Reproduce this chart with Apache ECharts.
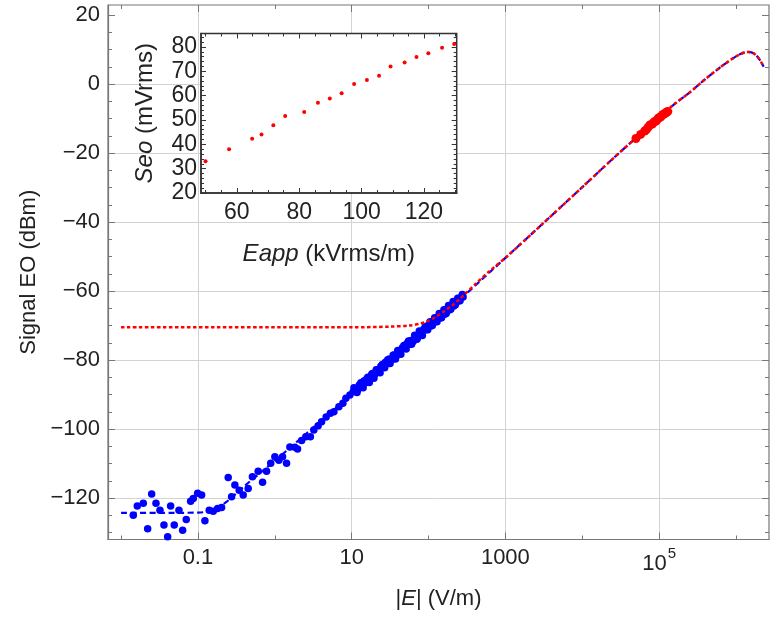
<!DOCTYPE html>
<html><head><meta charset="utf-8">
<script src="https://cdn.jsdelivr.net/npm/echarts@6/dist/echarts.min.js"></script>
<style>html,body{margin:0;padding:0;background:#fff}#c{width:771px;height:619px}</style>
</head><body><div id="c"></div>
<script>
// measured points (x stored as log10 of |E| in V/m, y in dBm)
const measLog10E = [-1.841,-1.789,-1.711,-1.602,-1.654,-1.546,-1.494,-1.442,-1.394,-1.355,-1.308,-1.247,-1.199,-1.152,-1.095,-1.061,-1.004,-0.952,-0.909,-0.853,-0.801,-0.744,-0.692,-0.606,-0.562,-0.519,-0.463,-0.411,-0.346,-0.291,-0.216,-0.159,-0.107,-0.053,0.001,0.053,0.101,0.153,0.196,0.261,0.296,0.349,0.404,0.463,0.508,0.564,0.609,0.668,0.723,0.769,0.834,0.886,0.925,0.977,1.020,
1.05,1.08,1.10,1.13,1.16,1.18,1.21,1.24,1.27,1.30,1.32,1.35,1.38,1.41,1.44,1.46,1.49,1.52,1.55,1.58,1.61,1.63,1.66,1.69,1.72,1.75,1.77,1.80,1.83,1.86,1.89,1.91,1.94,1.97,2.00,2.03,2.06,2.09,2.12,2.15,2.18,2.21,2.24,2.27,2.30,2.33,2.36,2.39,2.42,2.45,
1.03,1.07,1.12,1.15,1.19,1.23,1.26,1.29,1.33,1.37,1.40,1.43,1.47,1.50,1.54,1.57,1.60,1.64,1.68,1.71,1.74,1.78,1.82,1.85,1.88,1.92,1.96,1.99,2.02,2.05,2.08,2.11,2.14,2.17,2.20,2.23,2.26,2.29,2.32,2.35,2.38,2.41,2.44];
const measDbm = [-125.0,-122.3,-121.5,-118.8,-128.9,-121.5,-123.5,-127.8,-131.2,-122.3,-127.8,-123.5,-129.3,-126.2,-120.9,-120.1,-118.6,-119.1,-126.6,-123.5,-123.8,-123.0,-122.7,-114.0,-119.6,-116.2,-117.7,-119.1,-117.2,-113.8,-112.2,-115.4,-112.2,-109.9,-108.0,-109.0,-108.0,-109.9,-105.2,-105.3,-105.8,-103.3,-102.2,-102.2,-100.3,-99.0,-97.9,-96.5,-95.4,-95.0,-93.5,-92.5,-91.1,-90.1,-89.2,
-88.3,-88.6,-87.2,-87.5,-86.1,-86.6,-85.0,-85.3,-83.9,-84.2,-82.8,-83.1,-81.8,-82.0,-80.6,-81.1,-79.7,-79.9,-78.5,-78.9,-77.4,-77.7,-76.4,-76.6,-75.2,-75.5,-74.3,-74.6,-73.2,-73.4,-72.0,-72.4,-71.0,-71.2,-69.9,-70.1,-68.8,-68.9,-67.6,-67.8,-66.5,-66.7,-65.3,-65.5,-64.2,-64.3,-63.1,-62.9,-61.9,-61.7,
-88.0,-89.4,-86.6,-88.0,-85.6,-86.5,-84.2,-85.3,-82.9,-83.7,-81.3,-82.2,-79.9,-81.0,-78.6,-79.7,-77.2,-78.3,-75.8,-76.8,-74.5,-75.4,-72.8,-74.0,-71.6,-72.9,-70.3,-71.2,-68.9,-70.0,-67.7,-68.9,-66.5,-67.7,-65.4,-66.5,-64.2,-65.3,-63.0,-64.0,-62.1,-62.8,-61.0];
// blue dashed fit curve
const fitLog10E = [-2.0,-1.5,-1.0,-0.9,-0.8,-0.7,-0.6,-0.5,-0.4,-0.2,0.0,0.5,1.0,1.5,2.0,2.45,3.0,3.5,4.0,4.4,4.7,5.0,5.2,5.4,5.6,5.8,5.95,6.05,6.15,6.22,6.28,6.33,6.36];
const fitDbm = [-124.3,-124.3,-124.2,-124.0,-123.3,-122.2,-120.6,-118.6,-116.6,-112.9,-109.2,-99.6,-89.9,-80.2,-70.5,-61.6,-50.4,-40.2,-29.9,-21.6,-15.6,-9.6,-5.8,-2.4,1.4,4.9,7.3,8.6,9.3,9.0,7.9,6.3,5.0];
// red dotted model curve
const modelLog10E = [-2.0,1.0,1.5,1.75,1.9,2.0,2.1,2.2,2.3,2.4,2.5,2.6,2.8,3.0,3.5,4.0,4.4,4.7,5.0,5.2,5.4,5.6,5.8,5.95,6.05,6.15,6.22,6.28,6.33,6.36];
const modelDbm = [-70.5,-70.5,-70.3,-70.0,-69.4,-68.6,-67.4,-65.9,-64.3,-62.4,-60.3,-58.2,-54.1,-50.4,-40.2,-29.9,-21.6,-15.6,-9.6,-5.8,-2.4,1.4,4.9,7.3,8.6,9.3,9.0,7.9,6.3,5.0];
// red high-field points in main plot
const redLog10E = [4.699,4.760,4.812,4.832,4.856,4.878,4.912,4.934,4.953,4.971,4.989,5.007,5.024,5.039,5.056,5.070,5.084,5.100,5.113];
const redDbm = [-15.8,-14.6,-13.6,-13.3,-12.6,-11.9,-11.6,-11.0,-10.8,-10.5,-9.9,-9.7,-9.5,-9.0,-8.8,-8.6,-8.4,-8.1,-8.0];
// inset
const insetEapp = [49.95,57.5,64.9,67.9,71.7,75.5,81.6,86.0,89.8,93.6,97.6,101.7,105.6,109.3,113.8,117.6,121.4,125.8,129.7];
const insetSeo = [33.0,38.0,42.3,44.0,47.8,51.6,53.3,57.1,58.8,61.0,64.8,66.4,68.1,71.9,73.6,75.8,77.4,79.6,81.2];
// ticks
const xMajor = [-1,1,3,5];
const xMinor = [-2,0,2,4,6];
const yMajor = [-120,-100,-80,-60,-40,-20,0,20];
const yGrid = [-120,-100,-80,-60,-40,-20,0];
const yMinor = [-130,-125,-115,-110,-105,-95,-90,-85,-75,-70,-65,-55,-50,-45,-35,-30,-25,-15,-10,-5,5,10,15];
const inXMajor = [60,80,100,120];
const inXMinor = [50,55,65,70,75,85,90,95,105,110,115,125,130];
const inYMajor = [20,30,40,50,60,70,80];
const inYMinor = [22,24,26,28,32,34,36,38,42,44,46,48,52,54,56,58,62,64,66,68,72,74,76,78,82,84];

const FONT = 'Liberation Sans, Arial, sans-serif';
const TXT = '#222';
const FRAME = '#777';
const pairs = (a, b) => a.map((v, i) => [v, b[i]]);

const xLabel = v => { const r = Math.round(v); return {'-1':'0.1','1':'10','3':'1000','5':'{b|10}{s|5}'}[r]; };

function tickAxis(opts) { return Object.assign({
  type: 'value', axisLine: {show:false, onZero:false}, axisLabel: {show:false}, splitLine: {show:false}
}, opts); }
const tk = (vals, len, color) => ({show:true, inside:true, length:len, customValues:vals, lineStyle:{color:color, width:1}});

const option = {
  animation: false,
  backgroundColor: '#fff',
  textStyle: {fontFamily: FONT},
  grid: [
    {left:108, top:5, width:661, height:534.5, show:true, borderColor:FRAME, borderWidth:1.2, backgroundColor:'transparent', z:0},
    {left:201, top:33.5, width:255.7, height:159.5, show:true, borderColor:'#333', borderWidth:1.5, backgroundColor:'#fff', z:5}
  ],
  xAxis: [
    {gridIndex:0, type:'value', min:-2.17, max:6.43, position:'bottom',
      axisLine:{show:true, onZero:false, lineStyle:{color:FRAME, width:1.2}},
      axisTick:tk(xMajor, 7, FRAME),
      axisLabel:{customValues:xMajor, formatter:xLabel, color:TXT, fontSize:22, fontFamily:FONT, margin:7,
        rich:{b:{fontSize:22, color:TXT, fontFamily:FONT, verticalAlign:'bottom'}, s:{fontSize:15, color:TXT, fontFamily:FONT, verticalAlign:'top', padding:[0,0,13,1]}}},
      splitLine:{show:true, lineStyle:{color:'#d3d3d3', width:1}},
      name:'|{i|E}| (V/m)', nameLocation:'middle', nameGap:48,
      nameTextStyle:{fontSize:22, color:TXT, fontFamily:FONT, rich:{i:{fontStyle:'italic', fontSize:22, color:TXT, fontFamily:FONT}}}},
    tickAxis({gridIndex:0, min:-2.17, max:6.43, position:'bottom', axisTick:tk(xMinor, 4, FRAME)}),
    tickAxis({gridIndex:0, min:-2.17, max:6.43, position:'top', axisTick:tk(xMajor, 7, FRAME)}),
    tickAxis({gridIndex:0, min:-2.17, max:6.43, position:'top', axisTick:tk(xMinor, 4, FRAME)}),
    // inset x
    {gridIndex:1, type:'value', min:48.5, max:130.5, position:'bottom', z:6,
      axisLine:{show:true, onZero:false, lineStyle:{color:'#333', width:1.5}},
      axisTick:tk(inXMajor, 5, '#333'),
      axisLabel:{customValues:inXMajor, color:TXT, fontSize:23, fontFamily:FONT, margin:8},
      splitLine:{show:false},
      name:'{i|Eapp} (kVrms/m)', nameLocation:'middle', nameGap:49,
      nameTextStyle:{fontSize:24, color:TXT, fontFamily:FONT, rich:{i:{fontStyle:'italic', fontSize:24, color:TXT, fontFamily:FONT}}}},
    tickAxis({gridIndex:1, min:48.5, max:130.5, position:'bottom', z:6, axisTick:tk(inXMinor, 3, '#333')}),
    tickAxis({gridIndex:1, min:48.5, max:130.5, position:'top', z:6, axisTick:tk(inXMajor, 5, '#333')}),
    tickAxis({gridIndex:1, min:48.5, max:130.5, position:'top', z:6, axisTick:tk(inXMinor, 3, '#333')})
  ],
  yAxis: [
    {gridIndex:0, type:'value', min:-132, max:22.9, position:'left',
      axisLine:{show:true, onZero:false, lineStyle:{color:FRAME, width:1.2}},
      axisTick:tk(yMajor, 7, FRAME),
      axisLabel:{customValues:yMajor, color:TXT, fontSize:22, fontFamily:FONT, margin:8, formatter: v => String(v).replace('-', '\u2212')},
      splitLine:{show:false},
      name:'Signal EO (dBm)', nameLocation:'middle', nameGap:66,
      nameTextStyle:{fontSize:22, color:TXT, fontFamily:FONT}},
    tickAxis({gridIndex:0, min:-132, max:22.9, position:'left', axisTick:tk(yMinor, 4, FRAME)}),
    tickAxis({gridIndex:0, min:-132, max:22.9, position:'left', axisTick:{show:false, customValues:yGrid}, splitLine:{show:true, lineStyle:{color:'#d3d3d3', width:1}}}),
    tickAxis({gridIndex:0, min:-132, max:22.9, position:'right', axisTick:tk(yMajor, 7, FRAME)}),
    tickAxis({gridIndex:0, min:-132, max:22.9, position:'right', axisTick:tk(yMinor, 4, FRAME)}),
    // inset y
    {gridIndex:1, type:'value', min:20, max:85.5, position:'left', z:6,
      axisLine:{show:true, onZero:false, lineStyle:{color:'#333', width:1.5}},
      axisTick:tk(inYMajor, 5, '#333'),
      axisLabel:{customValues:inYMajor, color:TXT, fontSize:23, fontFamily:FONT, margin:4},
      splitLine:{show:false},
      name:'{i|Seo} (mVrms)', nameLocation:'middle', nameGap:44,
      nameTextStyle:{fontSize:24, color:TXT, fontFamily:FONT, rich:{i:{fontStyle:'italic', fontSize:24, color:TXT, fontFamily:FONT}}}},
    tickAxis({gridIndex:1, min:20, max:85.5, position:'left', z:6, axisTick:tk(inYMinor, 3, '#333')}),
    tickAxis({gridIndex:1, min:20, max:85.5, position:'right', z:6, axisTick:tk(inYMajor, 5, '#333')}),
    tickAxis({gridIndex:1, min:20, max:85.5, position:'right', z:6, axisTick:tk(inYMinor, 3, '#333')})
  ],
  series: [
    {type:'scatter', xAxisIndex:0, yAxisIndex:0, data:pairs(measLog10E, measDbm), symbolSize:7.5,
      itemStyle:{color:'#0000ff', opacity:1}, z:2},
    {type:'line', xAxisIndex:0, yAxisIndex:0, data:pairs(fitLog10E, fitDbm), showSymbol:false, smooth:0.3,
      lineStyle:{color:'#0000ff', width:2.2, type:[6,3.5]}, z:3},
    {type:'line', xAxisIndex:0, yAxisIndex:0, data:pairs(modelLog10E, modelDbm), showSymbol:false, smooth:0.3,
      lineStyle:{color:'#ff0000', width:2.5, type:[3.5,2.5]}, z:4},
    {type:'scatter', xAxisIndex:0, yAxisIndex:0, data:pairs(redLog10E, redDbm), symbolSize:9,
      itemStyle:{color:'#ff0000', opacity:1}, z:5},
    {type:'scatter', xAxisIndex:4, yAxisIndex:5, data:pairs(insetEapp, insetSeo), symbolSize:4,
      itemStyle:{color:'#ff0000', opacity:1}, z:8}
  ]
};
const chart = echarts.init(document.getElementById('c'), null, {renderer:'canvas'});
chart.setOption(option);
</script></body></html>
